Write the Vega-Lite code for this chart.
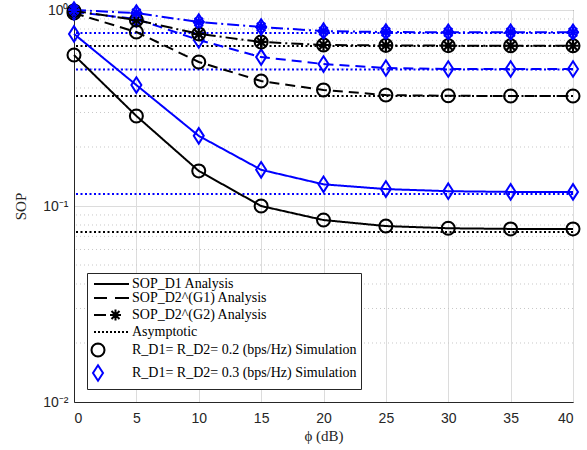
{
  "$schema": "https://vega.github.io/schema/vega-lite/v6.json",
  "autosize": "none",
  "width": 499,
  "height": 392,
  "padding": {"left": 74, "top": 10, "right": 14, "bottom": 48},
  "background": "white",
  "config": {
    "view": {"stroke": "#262626", "strokeWidth": 1},
    "axis": {
      "labelFont": "Liberation Sans",
      "labelFontSize": 14,
      "labelColor": "#262626",
      "titleFont": "Liberation Serif",
      "titleFontSize": 15,
      "titleFontWeight": "normal",
      "titleColor": "#262626",
      "domainColor": "#262626",
      "tickColor": "#262626",
      "gridColor": "#dcdcdc",
      "gridWidth": 1
    },
    "legend": {
      "labelFont": "Liberation Serif",
      "labelFontSize": 14,
      "labelColor": "#000000",
      "labelLimit": 400,
      "strokeColor": "#262626",
      "fillColor": "white",
      "padding": 4,
      "symbolStrokeWidth": 2,
      "symbolSize": 100
    }
  },
  "datasets": {
    "sop": [
      {"x": 0, "y": 0.589, "curve": "D1", "R": "0.2"},
      {"x": 5, "y": 0.288, "curve": "D1", "R": "0.2"},
      {"x": 10, "y": 0.151, "curve": "D1", "R": "0.2"},
      {"x": 15, "y": 0.100, "curve": "D1", "R": "0.2"},
      {"x": 20, "y": 0.0848, "curve": "D1", "R": "0.2"},
      {"x": 25, "y": 0.079, "curve": "D1", "R": "0.2"},
      {"x": 30, "y": 0.077, "curve": "D1", "R": "0.2"},
      {"x": 35, "y": 0.0764, "curve": "D1", "R": "0.2"},
      {"x": 40, "y": 0.0764, "curve": "D1", "R": "0.2"},
      {"x": 0, "y": 0.755, "curve": "D1", "R": "0.3"},
      {"x": 5, "y": 0.414, "curve": "D1", "R": "0.3"},
      {"x": 10, "y": 0.228, "curve": "D1", "R": "0.3"},
      {"x": 15, "y": 0.153, "curve": "D1", "R": "0.3"},
      {"x": 20, "y": 0.129, "curve": "D1", "R": "0.3"},
      {"x": 25, "y": 0.122, "curve": "D1", "R": "0.3"},
      {"x": 30, "y": 0.119, "curve": "D1", "R": "0.3"},
      {"x": 35, "y": 0.118, "curve": "D1", "R": "0.3"},
      {"x": 40, "y": 0.118, "curve": "D1", "R": "0.3"},
      {"x": 0, "y": 0.965, "curve": "G1", "R": "0.2"},
      {"x": 5, "y": 0.772, "curve": "G1", "R": "0.2"},
      {"x": 10, "y": 0.543, "curve": "G1", "R": "0.2"},
      {"x": 15, "y": 0.434, "curve": "G1", "R": "0.2"},
      {"x": 20, "y": 0.391, "curve": "G1", "R": "0.2"},
      {"x": 25, "y": 0.368, "curve": "G1", "R": "0.2"},
      {"x": 30, "y": 0.365, "curve": "G1", "R": "0.2"},
      {"x": 35, "y": 0.364, "curve": "G1", "R": "0.2"},
      {"x": 40, "y": 0.364, "curve": "G1", "R": "0.2"},
      {"x": 0, "y": 0.977, "curve": "G1", "R": "0.3"},
      {"x": 5, "y": 0.9, "curve": "G1", "R": "0.3"},
      {"x": 10, "y": 0.703, "curve": "G1", "R": "0.3"},
      {"x": 15, "y": 0.575, "curve": "G1", "R": "0.3"},
      {"x": 20, "y": 0.53, "curve": "G1", "R": "0.3"},
      {"x": 25, "y": 0.506, "curve": "G1", "R": "0.3"},
      {"x": 30, "y": 0.5, "curve": "G1", "R": "0.3"},
      {"x": 35, "y": 0.5, "curve": "G1", "R": "0.3"},
      {"x": 40, "y": 0.5, "curve": "G1", "R": "0.3"},
      {"x": 0, "y": 0.99, "curve": "G2", "R": "0.2"},
      {"x": 5, "y": 0.889, "curve": "G2", "R": "0.2"},
      {"x": 10, "y": 0.755, "curve": "G2", "R": "0.2"},
      {"x": 15, "y": 0.687, "curve": "G2", "R": "0.2"},
      {"x": 20, "y": 0.663, "curve": "G2", "R": "0.2"},
      {"x": 25, "y": 0.66, "curve": "G2", "R": "0.2"},
      {"x": 30, "y": 0.658, "curve": "G2", "R": "0.2"},
      {"x": 35, "y": 0.657, "curve": "G2", "R": "0.2"},
      {"x": 40, "y": 0.657, "curve": "G2", "R": "0.2"},
      {"x": 0, "y": 1.0, "curve": "G2", "R": "0.3"},
      {"x": 5, "y": 0.965, "curve": "G2", "R": "0.3"},
      {"x": 10, "y": 0.868, "curve": "G2", "R": "0.3"},
      {"x": 15, "y": 0.819, "curve": "G2", "R": "0.3"},
      {"x": 20, "y": 0.78, "curve": "G2", "R": "0.3"},
      {"x": 25, "y": 0.772, "curve": "G2", "R": "0.3"},
      {"x": 30, "y": 0.77, "curve": "G2", "R": "0.3"},
      {"x": 35, "y": 0.77, "curve": "G2", "R": "0.3"},
      {"x": 40, "y": 0.77, "curve": "G2", "R": "0.3"}
    ],
    "asym": [
      {"y": 0.0737, "R": "0.2"},
      {"y": 0.3645, "R": "0.2"},
      {"y": 0.655, "R": "0.2"},
      {"y": 0.115, "R": "0.3"},
      {"y": 0.497, "R": "0.3"},
      {"y": 0.763, "R": "0.3"}
    ],
    "minor": [
      {"y": 0.02}, {"y": 0.03}, {"y": 0.04}, {"y": 0.05}, {"y": 0.06}, {"y": 0.07}, {"y": 0.08}, {"y": 0.09},
      {"y": 0.2}, {"y": 0.3}, {"y": 0.4}, {"y": 0.5}, {"y": 0.6}, {"y": 0.7}, {"y": 0.8}, {"y": 0.9}
    ]
  },
  "layer": [
    {
      "data": {"name": "minor"},
      "mark": {"type": "rule", "color": "#c8c8c8", "strokeDash": [1, 3], "strokeWidth": 1},
      "encoding": {
        "y": {"field": "y", "type": "quantitative", "scale": {"type": "log", "domain": [0.01, 1]}}
      }
    },
    {
      "data": {"name": "asym"},
      "mark": {"type": "rule", "strokeDash": [2, 2.5], "strokeWidth": 2},
      "encoding": {
        "y": {"field": "y", "type": "quantitative"},
        "color": {"field": "R", "type": "nominal", "scale": {"domain": ["0.2", "0.3"], "range": ["#000000", "#0000ff"]}, "legend": null}
      }
    },
    {
      "data": {"name": "sop"},
      "mark": {"type": "line", "strokeWidth": 2},
      "encoding": {
        "x": {"field": "x", "type": "quantitative", "scale": {"domain": [0, 40]},
              "axis": {"values": [0, 5, 10, 15, 20, 25, 30, 35, 40], "title": "ϕ (dB)", "grid": true, "ticks": false, "labelPadding": 9, "titlePadding": 3}},
        "y": {"field": "y", "type": "quantitative", "scale": {"type": "log", "domain": [0.01, 1]},
              "axis": {"values": [0.01, 0.1, 1], "title": "SOP", "grid": true, "ticks": false, "labelPadding": 6, "titlePadding": 14,
                       "labelExpr": "datum.value >= 0.99 ? '10⁰' : (datum.value >= 0.099 ? '10⁻¹' : '10⁻²')"}},
        "color": {"field": "R", "type": "nominal", "scale": {"domain": ["0.2", "0.3"], "range": ["#000000", "#0000ff"]}, "legend": null},
        "strokeDash": {"field": "curve", "type": "nominal", "scale": {"domain": ["D1", "G1", "G2"], "range": [[1, 0], [10, 6], [12, 4, 2, 4]]}, "legend": null}
      }
    },
    {
      "data": {"name": "sop"},
      "mark": {"type": "point", "filled": false, "strokeWidth": 2, "size": 100, "opacity": 1},
      "encoding": {
        "x": {"field": "x", "type": "quantitative"},
        "y": {"field": "y", "type": "quantitative"},
        "shape": {"field": "R", "type": "nominal",
          "scale": {"domain": ["SOP_D1 Analysis", "SOP_D2^(G1) Analysis", "SOP_D2^(G2) Analysis", "Asymptotic", "0.2", "0.3"],
                    "range": [
                      "M-0.8,0L6.2,0",
                      "M-0.8,0L1.8,0M3.4,0L6.2,0",
                      "M-0.8,0L1.6,0M3.5,-1.1L3.5,1.1M2.4,0L4.6,0M2.7,-0.8L4.3,0.8M2.7,0.8L4.3,-0.8",
                      "M-0.8,0L-0.4,0M0,0L0.4,0M0.8,0L1.2,0M1.6,0L2,0M2.4,0L2.8,0M3.2,0L3.6,0M4,0L4.4,0M4.8,0L5.2,0M5.6,0L6,0",
                      "M1.3,0L1.201,0.498L0.919,0.919L0.498,1.201L0,1.3L-0.498,1.201L-0.919,0.919L-1.201,0.498L-1.3,0L-1.201,-0.498L-0.919,-0.919L-0.498,-1.201L0,-1.3L0.498,-1.201L0.919,-0.919L1.201,-0.498Z",
                      "M0,-1.55L1,0L0,1.55L-1,0Z"
                    ]},
          "legend": {"title": null, "orient": "bottom-left", "offset": 13, "labelOffset": 27, "rowPadding": 0,
                     "labelExpr": "datum.label == '0.2' ? 'R_D1= R_D2= 0.2 (bps/Hz) Simulation' : (datum.label == '0.3' ? 'R_D1= R_D2= 0.3 (bps/Hz) Simulation' : datum.label)"}},
        "stroke": {"field": "R", "type": "nominal",
          "scale": {"domain": ["SOP_D1 Analysis", "SOP_D2^(G1) Analysis", "SOP_D2^(G2) Analysis", "Asymptotic", "0.2", "0.3"],
                    "range": ["#000000", "#000000", "#000000", "#000000", "#000000", "#0000ff"]},
          "legend": {"title": null, "orient": "bottom-left", "offset": 13, "labelOffset": 27, "rowPadding": 0,
                     "labelExpr": "datum.label == '0.2' ? 'R_D1= R_D2= 0.2 (bps/Hz) Simulation' : (datum.label == '0.3' ? 'R_D1= R_D2= 0.3 (bps/Hz) Simulation' : datum.label)"}}
      }
    },
    {
      "data": {"name": "sop"},
      "transform": [{"filter": "datum.curve == 'G2'"}],
      "mark": {"type": "point", "filled": false, "strokeWidth": 2.2, "size": 110, "opacity": 1,
               "shape": "M-1.1,0L1.1,0M0,-1.1L0,1.1M-0.8,-0.8L0.8,0.8M-0.8,0.8L0.8,-0.8"},
      "encoding": {
        "x": {"field": "x", "type": "quantitative"},
        "y": {"field": "y", "type": "quantitative"},
        "color": {"field": "R", "type": "nominal", "scale": {"domain": ["0.2", "0.3"], "range": ["#000000", "#0000ff"]}, "legend": null}
      }
    }
  ]
}
